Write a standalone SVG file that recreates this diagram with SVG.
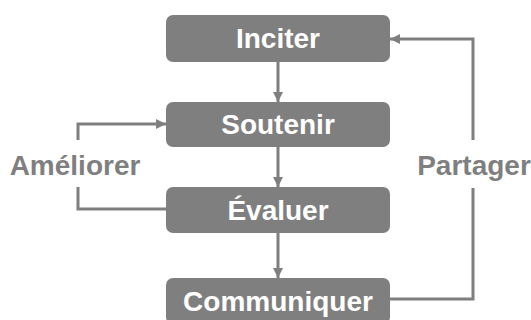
<svg xmlns="http://www.w3.org/2000/svg" width="531" height="320" viewBox="0 0 531 320">
<defs>
<style>
.box{fill:#7f7f7f}
.t{font-family:"Liberation Sans",Arial,sans-serif;font-weight:bold;font-size:28px;text-anchor:middle}
.tw{fill:#ffffff}
.tg{fill:#7f7f7f}
.c{fill:none;stroke:#7f7f7f;stroke-width:3}
</style>
<marker id="ah" viewBox="0 0 10 10" refX="10" refY="5" markerWidth="10" markerHeight="10" markerUnits="userSpaceOnUse" orient="auto">
<path d="M0,0 L10,5 L0,10 Z" fill="#7f7f7f"/>
</marker>
</defs>
<rect width="531" height="320" fill="#ffffff"/>
<g id="connectors">
<path class="c" d="M278,62 L278,102" marker-end="url(#ah)"/>
<path class="c" d="M278,147 L278,187" marker-end="url(#ah)"/>
<path class="c" d="M278,233 L278,278" marker-end="url(#ah)"/>
<path class="c" d="M166,209 L78,209 L78,187"/>
<path class="c" d="M78,140 L78,124 L166,124" marker-end="url(#ah)"/>
<path class="c" d="M390,299 L473,299 L473,188"/>
<path class="c" d="M473,140 L473,39 L390,39" marker-end="url(#ah)"/>
<text class="t tg" x="75" y="175">Améliorer</text>
<text class="t tg" x="474" y="175">Partager</text>
</g>
<g id="inciter">
<rect class="box" x="166" y="15" width="224" height="47" rx="7"/>
<text class="t tw" x="278" y="48">Inciter</text>
</g>
<g id="soutenir">
<rect class="box" x="166" y="102" width="224" height="45" rx="7"/>
<text class="t tw" x="278" y="134">Soutenir</text>
</g>
<g id="evaluer">
<rect class="box" x="166" y="187" width="224" height="46" rx="7"/>
<text class="t tw" x="278" y="220">Évaluer</text>
</g>
<g id="communiquer">
<rect class="box" x="166" y="278" width="224" height="46" rx="7"/>
<text class="t tw" x="278" y="311">Communiquer</text>
</g>
</svg>
